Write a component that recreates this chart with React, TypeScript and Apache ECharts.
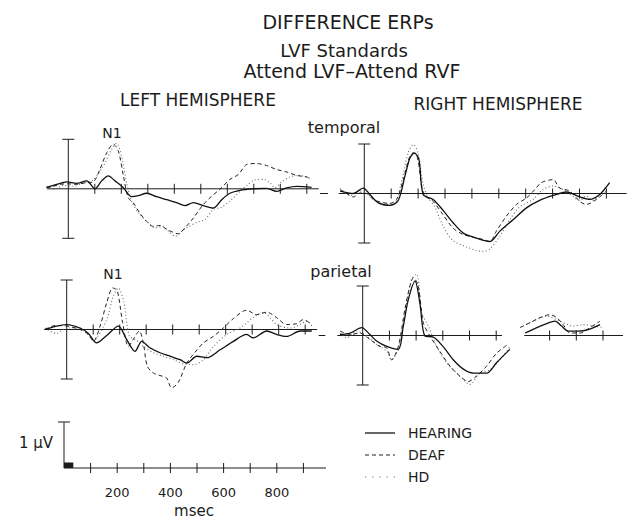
import React, { useEffect, useRef } from 'react';
import * as echarts from 'echarts';

// ---------- data (time in msec, amplitude in µV, negative plotted up) ----------
const tickTimes = [100, 200, 300, 400, 500, 600, 700, 800, 900];
const tickTimesParietalRight = [100, 200, 300, 400, 500, 700, 800, 900];
const scaleLabels = [200, 400, 600, 800];
const legendNames = ['HEARING', 'DEAF', 'HD'];

// Left hemisphere, temporal
const ltHearing = [[-82,-0.03],[-44,-0.09],[-6,-0.14],[31,-0.11],[69,-0.16],[101,0.0],[126,-0.16],[151,-0.26],[176,-0.16],[208,-0.02],[239,0.16],[264,0.14],[296,0.09],[333,0.16],[371,0.22],[409,0.28],[440,0.34],[472,0.28],[509,0.34],[547,0.39],[579,0.22],[610,0.09],[648,0.03],[698,0.0],[748,-0.01],[786,0.05],[824,-0.02],[862,-0.05],[918,-0.03]];
const ltDeaf = [[-82,-0.02],[-57,-0.05],[-31,-0.09],[0,-0.1],[31,-0.09],[63,-0.12],[94,-0.14],[119,-0.39],[145,-0.73],[170,-0.9],[189,-0.76],[208,-0.26],[226,0.18],[245,0.28],[270,0.49],[296,0.66],[321,0.76],[346,0.74],[371,0.82],[396,0.88],[415,0.91],[440,0.79],[472,0.59],[509,0.32],[541,0.15],[572,0.01],[610,-0.19],[642,-0.29],[673,-0.49],[711,-0.51],[748,-0.47],[786,-0.39],[824,-0.34],[862,-0.27],[899,-0.24],[918,-0.2]];
const ltHd = [[-82,-0.05],[-50,0.01],[-19,-0.07],[19,-0.05],[57,-0.12],[94,-0.18],[132,-0.46],[164,-0.8],[182,-0.92],[201,-0.66],[220,-0.12],[239,0.25],[270,0.52],[302,0.69],[327,0.79],[358,0.76],[384,0.89],[403,0.96],[428,0.86],[453,0.77],[484,0.68],[516,0.62],[547,0.42],[579,0.37],[610,0.25],[648,0.05],[679,-0.09],[704,-0.18],[736,-0.19],[761,-0.12],[780,-0.02],[805,-0.14],[836,-0.24],[874,-0.27],[918,-0.19]];

// Right hemisphere, temporal
const rtHearing = [[-90,-0.05],[-41,0.0],[-4,-0.11],[21,0.02],[52,0.19],[95,0.24],[126,0.14],[151,-0.35],[170,-0.72],[186,-0.82],[203,-0.69],[219,0.02],[256,0.12],[293,0.34],[330,0.59],[368,0.8],[417,0.9],[467,0.97],[504,0.76],[553,0.53],[603,0.29],[652,0.14],[702,0.04],[751,-0.03],[801,0.07],[838,0.12],[875,0.02],[912,-0.22]];
const rtDeaf = [[-90,-0.08],[-66,0.0],[-41,0.07],[-16,-0.01],[9,0.0],[33,0.12],[64,0.18],[95,0.2],[120,0.12],[145,-0.28],[167,-0.72],[182,-0.82],[198,-0.72],[213,-0.15],[225,0.04],[256,0.16],[293,0.43],[330,0.7],[368,0.83],[405,0.88],[442,0.93],[467,0.97],[491,0.76],[528,0.46],[566,0.22],[603,0.09],[634,-0.08],[658,-0.22],[702,-0.28],[726,-0.11],[764,-0.05],[801,0.16],[825,0.22],[863,0.12],[900,-0.05]];
const rtHd = [[-90,-0.11],[-53,0.04],[-16,-0.05],[9,0.0],[46,0.16],[83,0.22],[114,0.19],[139,-0.25],[163,-0.82],[182,-0.99],[200,-0.82],[219,-0.18],[238,0.09],[262,0.27],[293,0.66],[330,0.95],[380,1.08],[417,1.15],[442,1.17],[467,1.12],[504,0.86],[541,0.53],[578,0.27],[627,0.12],[665,-0.08],[702,-0.15],[751,-0.05],[801,0.14],[825,0.05],[850,0.14],[875,0.02],[900,-0.15]];

// Left hemisphere, parietal
const lpHearing = [[-82,0.0],[-38,-0.07],[0,-0.1],[50,-0.03],[82,0.08],[113,0.27],[151,0.12],[195,-0.07],[226,0.2],[258,0.44],[283,0.24],[314,0.37],[352,0.47],[390,0.54],[428,0.61],[453,0.68],[491,0.54],[528,0.57],[579,0.41],[629,0.24],[679,0.1],[704,0.17],[755,0.03],[792,0.1],[830,0.14],[881,0.03],[925,0.03]];
const lpDeaf = [[-82,0.0],[-44,-0.08],[0,-0.07],[50,0.0],[82,0.1],[101,0.24],[126,-0.07],[151,-0.54],[174,-0.84],[191,-0.78],[211,-0.14],[233,0.34],[252,0.19],[274,0.03],[289,0.27],[304,0.74],[327,0.88],[352,0.93],[377,0.98],[396,1.18],[421,1.07],[453,0.68],[484,0.46],[516,0.27],[553,0.14],[591,-0.03],[629,-0.22],[679,-0.39],[717,-0.3],[755,-0.35],[792,-0.24],[830,-0.1],[868,-0.12],[893,-0.2],[925,-0.1]];
const lpHd = [[-82,-0.03],[-38,0.08],[0,-0.03],[50,-0.03],[101,0.2],[151,-0.2],[176,-0.68],[195,-0.84],[216,-0.54],[236,0.12],[264,0.22],[289,0.35],[327,0.47],[365,0.54],[403,0.61],[440,0.69],[478,0.71],[516,0.61],[553,0.35],[604,0.1],[654,-0.03],[704,-0.24],[742,-0.34],[767,-0.24],[792,-0.1],[843,-0.03],[881,-0.1],[906,-0.17],[925,-0.07]];

// Right hemisphere, parietal (null marks the break in the trace)
const rpHearing = [[-85,-0.02],[-47,-0.05],[-4,-0.16],[27,-0.02],[52,0.11],[90,0.22],[133,0.28],[152,-0.19],[171,-0.73],[196,-1.1],[214,-0.66],[233,0.01],[264,0.03],[302,0.23],[339,0.49],[377,0.68],[414,0.76],[464,0.76],[501,0.55],[551,0.28],[580,null],[608,-0.05],[652,-0.16],[689,-0.24],[720,-0.29],[745,-0.19],[770,-0.09],[807,-0.09],[845,-0.12],[889,-0.22]];
const rpDeaf = [[-85,-0.09],[-47,-0.02],[-10,-0.05],[27,0.08],[65,0.22],[90,0.25],[108,0.49],[133,0.23],[158,-0.53],[177,-1.0],[190,-1.17],[208,-1.0],[227,-0.26],[252,0.01],[289,0.32],[327,0.62],[364,0.82],[395,0.93],[426,0.82],[464,0.62],[501,0.36],[539,0.2],[565,null],[589,-0.16],[627,-0.26],[664,-0.36],[701,-0.42],[727,-0.36],[751,-0.22],[776,-0.05],[814,-0.05],[851,-0.16],[889,-0.29]];
const rpHd = [[-85,-0.05],[-60,0.05],[-22,-0.09],[15,0.01],[52,0.18],[90,0.32],[108,0.49],[133,0.28],[158,-0.46],[183,-1.14],[202,-1.24],[221,-0.46],[246,-0.19],[277,0.22],[314,0.55],[352,0.76],[377,0.89],[401,0.99],[439,0.76],[476,0.69],[514,0.49],[551,0.23],[575,null],[601,-0.19],[639,-0.29],[689,-0.39],[739,-0.29],[789,-0.19],[826,-0.22],[864,-0.19],[901,-0.16]];

const baselinesLT = [[-80, 945]];
const baselinesRT = [[-165, -135], [-95, 975]];
const baselinesLP = [[-85, 945]];
const baselinesRP = [[-165, -140], [-95, 522], [605, 975]];
const baselinesScale = [[0, 985]];

const panelBar = [[0, -1, 1, 2]];
const scaleBar = [[0, -1, 0, 1]];
const stimulusBox = [[0, 35, -0.12]];

// ---------- styles ----------
const ink = '#1c1c1c';
const font = 'DejaVu Sans';
const groupStyle: Record<string, any> = {
  HEARING: { color: '#111', width: 1.3, type: 'solid', dash: null },
  DEAF: { color: '#222', width: 1, type: [4, 3], dash: [4, 3] },
  HD: { color: '#6a6a6a', width: 1.1, type: [1, 2.4], dash: [1.2, 6] },
};

function renderBaseline(_p: any, api: any) {
  const a = api.coord([api.value(0), 0]);
  const b = api.coord([api.value(1), 0]);
  return { type: 'line', shape: { x1: a[0], y1: a[1], x2: b[0], y2: b[1] }, style: { stroke: ink, lineWidth: 1 } };
}
function renderTick(_p: any, api: any) {
  const p = api.coord([api.value(0), 0]);
  return { type: 'line', shape: { x1: p[0], y1: p[1] - 5, x2: p[0], y2: p[1] + 5 }, style: { stroke: ink, lineWidth: 1 } };
}
function renderBar(_p: any, api: any) {
  const top = api.coord([api.value(0), api.value(1)]);
  const bot = api.coord([api.value(0), api.value(2)]);
  const caps = api.value(3);
  const st = { stroke: ink, lineWidth: 1 };
  const children: any[] = [
    { type: 'line', shape: { x1: top[0], y1: top[1], x2: bot[0], y2: bot[1] }, style: st },
    { type: 'line', shape: { x1: top[0] - 6, y1: top[1], x2: top[0] + 6, y2: top[1] }, style: st },
  ];
  if (caps > 1) children.push({ type: 'line', shape: { x1: bot[0] - 6, y1: bot[1], x2: bot[0] + 6, y2: bot[1] }, style: st });
  return { type: 'group', children };
}
function renderBox(_p: any, api: any) {
  const a = api.coord([api.value(0), 0]);
  const b = api.coord([api.value(1), api.value(2)]);
  return { type: 'rect', shape: { x: a[0], y: b[1], width: b[0] - a[0], height: a[1] - b[1] }, style: { fill: ink } };
}

export default function App() {
  const ref = useRef<HTMLDivElement>(null);
  useEffect(() => {
    if (!ref.current) return;
    const chart = echarts.init(ref.current, null, { renderer: 'svg' });

    // panel geometry: zero time x, px per 100 ms, baseline y
    const panels = [
      { x0: 68.3, pxPer100: 26.5, y0: 188.8, xmin: -90, xmax: 950, curves: { HEARING: ltHearing, DEAF: ltDeaf, HD: ltHd }, base: baselinesLT, ticks: tickTimes },
      { x0: 364.3, pxPer100: 26.9, y0: 193.5, xmin: -170, xmax: 980, curves: { HEARING: rtHearing, DEAF: rtDeaf, HD: rtHd }, base: baselinesRT, ticks: tickTimes },
      { x0: 66.7, pxPer100: 26.5, y0: 329.5, xmin: -90, xmax: 950, curves: { HEARING: lpHearing, DEAF: lpDeaf, HD: lpHd }, base: baselinesLP, ticks: tickTimes },
      { x0: 362.7, pxPer100: 26.7, y0: 335.5, xmin: -170, xmax: 980, curves: { HEARING: rpHearing, DEAF: rpDeaf, HD: rpHd }, base: baselinesRP, ticks: tickTimesParietalRight },
    ];
    const pxPerUv = 49.5;
    const ymin = -1.4, ymax = 1.4;

    const grid: any[] = [];
    const xAxis: any[] = [];
    const yAxis: any[] = [];
    const series: any[] = [];

    panels.forEach((p, i) => {
      const s = p.pxPer100 / 100;
      grid.push({ left: p.x0 + p.xmin * s, width: (p.xmax - p.xmin) * s, top: p.y0 + ymin * pxPerUv, height: (ymax - ymin) * pxPerUv, containLabel: false });
      xAxis.push({ gridIndex: i, type: 'value', min: p.xmin, max: p.xmax, show: false });
      yAxis.push({ gridIndex: i, type: 'value', min: ymin, max: ymax, inverse: true, show: false });
      series.push({ type: 'custom', xAxisIndex: i, yAxisIndex: i, renderItem: renderBaseline, data: p.base, silent: true, z: 1 });
      series.push({ type: 'custom', xAxisIndex: i, yAxisIndex: i, renderItem: renderTick, data: p.ticks.map((t) => [t]), silent: true, z: 1 });
      series.push({ type: 'custom', xAxisIndex: i, yAxisIndex: i, renderItem: renderBar, data: panelBar, silent: true, z: 1 });
      (['HD', 'DEAF', 'HEARING'] as const).forEach((g) => {
        const st = groupStyle[g];
        series.push({
          name: g, type: 'line', xAxisIndex: i, yAxisIndex: i, data: (p.curves as any)[g],
          symbol: 'none', smooth: 0.3, connectNulls: false, silent: true, z: 2,
          lineStyle: { color: st.color, width: st.width, type: st.type },
          itemStyle: { color: st.color },
        });
      });
    });

    // scale bar grid (grid bottom sits on the baseline)
    const si = 4;
    const sScale = 26.6 / 100;
    const sUv = 46;
    const scaleBase = 468;
    grid.push({ left: 64, width: 1000 * sScale, top: scaleBase - 1.2 * sUv, height: 1.2 * sUv, containLabel: false });
    xAxis.push({
      gridIndex: si, type: 'value', min: 0, max: 1000, interval: 200, position: 'bottom',
      axisLine: { show: false, onZero: false }, axisTick: { show: false }, splitLine: { show: false },
      axisLabel: { show: true, margin: 18, color: ink, fontFamily: font, fontSize: 13,
        formatter: (v: number) => (scaleLabels.includes(v) ? String(v) : '') },
    });
    yAxis.push({ gridIndex: si, type: 'value', min: -1.2, max: 0, inverse: true, show: false });
    series.push({ type: 'custom', xAxisIndex: si, yAxisIndex: si, renderItem: renderBaseline, data: baselinesScale, silent: true });
    series.push({ type: 'custom', xAxisIndex: si, yAxisIndex: si, renderItem: renderTick, data: tickTimes.map((t) => [t]), silent: true });
    series.push({ type: 'custom', xAxisIndex: si, yAxisIndex: si, renderItem: renderBar, data: scaleBar, silent: true });
    series.push({ type: 'custom', xAxisIndex: si, yAxisIndex: si, renderItem: renderBox, data: stimulusBox, silent: true });

    const txt = (text: string, x: number, y: number, size: number, align = 'center') => ({
      type: 'text', x, y, silent: true,
      style: { text, fill: ink, font: `${size}px "${font}"`, textAlign: align, textVerticalAlign: 'middle' },
    });

    // legend drawn as line samples + labels
    const legendGraphics: any[] = [];
    legendNames.forEach((name, k) => {
      const y = 433 + k * 22;
      const st = groupStyle[name];
      legendGraphics.push({
        type: 'line', silent: true,
        shape: { x1: 365, y1: y, x2: 395, y2: y },
        style: { stroke: st.color, lineWidth: st.width, lineDash: st.dash || undefined },
      });
      legendGraphics.push(txt(name, 408, y, 14, 'left'));
    });

    chart.setOption({
      animation: false,
      backgroundColor: '#ffffff',
      grid, xAxis, yAxis, series,
      graphic: [
        txt('DIFFERENCE ERPs', 348, 22, 19),
        txt('LVF Standards', 344, 50, 18),
        txt('Attend LVF–Attend RVF', 352, 71, 19),
        txt('LEFT HEMISPHERE', 198, 100, 17),
        txt('RIGHT HEMISPHERE', 498, 104, 17),
        txt('temporal', 344, 127, 16),
        txt('parietal', 341, 271, 16),
        txt('N1', 112, 133, 14),
        txt('N1', 113, 274, 14),
        txt('1 µV', 53, 443, 15, 'right'),
        txt('msec', 194, 511, 15),
        ...legendGraphics,
      ],
    });
    return () => chart.dispose();
  }, []);
  return <div ref={ref} style={{ position: 'fixed', left: 0, top: 0, width: 629, height: 520, background: '#fff' }} />;
}
